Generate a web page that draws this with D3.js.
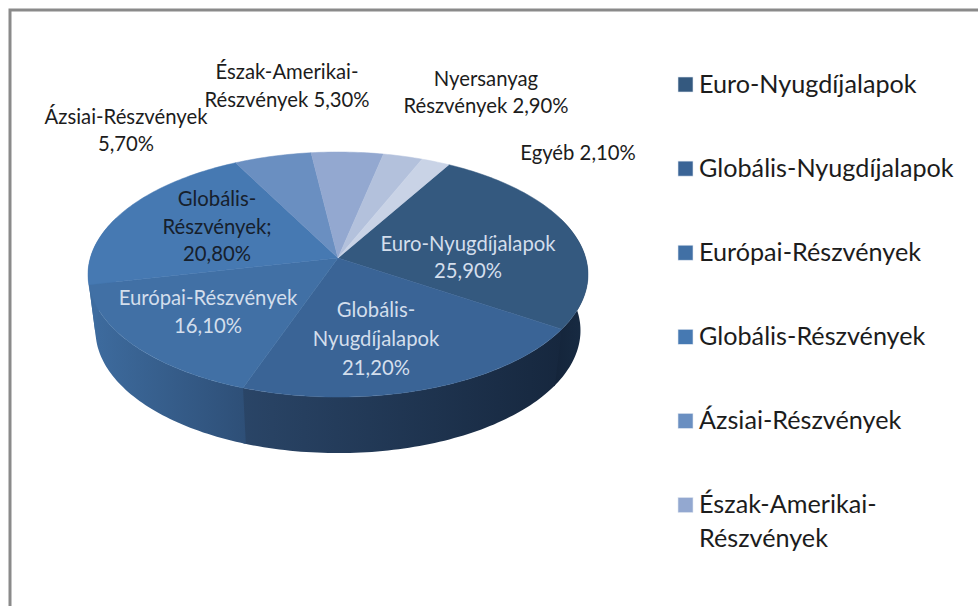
<!DOCTYPE html>
<html>
<head>
<meta charset="utf-8">
<script src="https://cdn.jsdelivr.net/npm/d3@7"></script>
<style>
html,body{margin:0;padding:0;background:#fff;}
svg{display:block;}
text{font-family:Lato,"Open Sans",sans-serif;}
</style>
</head>
<body>
<svg width="978" height="606"></svg>
<script>
/* ----------------------------------------------------------
data
---------------------------------------------------------- */
var categories = ["Euro-Nyugdíjalapok","Globális-Nyugdíjalapok","Európai-Részvények","Globális-Részvények","Ázsiai-Részvények","Észak-Amerikai-Részvények","Nyersanyag Részvények","Egyéb"];
var values = [25.9,21.2,16.1,20.8,5.7,5.3,2.9,2.1];
var valueLabels = ["25,90%","21,20%","16,10%","20,80%","5,70%","5,30%","2,90%","2,10%"];
var labelLines = [
	["Euro-Nyugdíjalapok","25,90%"],
	["Globális-","Nyugdíjalapok","21,20%"],
	["Európai-Részvények","16,10%"],
	["Globális-","Részvények;","20,80%"],
	["Ázsiai-Részvények","5,70%"],
	["Észak-Amerikai-","Részvények 5,30%"],
	["Nyersanyag","Részvények 2,90%"],
	["Egyéb 2,10%"]
];
var legendItems = [
	["Euro-Nyugdíjalapok"],
	["Globális-Nyugdíjalapok"],
	["Európai-Részvények"],
	["Globális-Részvények"],
	["Ázsiai-Részvények"],
	["Észak-Amerikai-","Részvények"]
];

/* ----------------------------------------------------------
setting
---------------------------------------------------------- */
var faceColor = ["#34597f","#3a6496","#4170a5","#4679b2","#6a8fc1","#93a8d0","#b3c1dc","#c9d3e6"];
var wallStops = [["#14243a","#182c44"],["#2a4567","#16273e"],["#3e6c9f","#2e4f77"],["#3e6c9f","#3e6c9f"]];
var labelPos = [[468,251,27],[376,317,29],[208,305,28],[217,206,27.5],[126,124,27],[287,79,28],[486,86,27],[578,160,0]];
var labelColor = ["#d3deec","#d3deec","#d3deec","#16202c","#1c1c1c","#1c1c1c","#1c1c1c","#1c1c1c"];

var svg = d3.select("svg");
var defs = svg.append("defs");

// perspective of the disc
var k = -0.135;
var xScale = d3.scaleLinear().domain([-1,1]).range([338-247.7,338+247.7]);
var yScale = d3.scaleLinear().domain([-1,1]).range([258-120.3,258+120.3]);
var depth = 56;
var shrink = 0.97;

function topPoint(a){
	var u = Math.sin(a), v = -Math.cos(a), w = 1 + k*v;
	return [xScale(u/w), yScale(v/w)];
}
function bottomPoint(a){
	var p = topPoint(a);
	return [xScale(0) + (p[0]-xScale(0))*shrink, p[1] + depth];
}
function sample(a0,a1){
	var n = Math.max(2,Math.ceil(Math.abs(a1-a0)/0.02));
	return d3.range(n+1).map(function(i){return a0+(a1-a0)*i/n;});
}

var rad = Math.PI/180;
var pie = d3.pie().sort(null).startAngle(30*rad).endAngle(390*rad);
var slices = pie(values);
var line = d3.line();

/* ----------------------------------------------------------
frame
---------------------------------------------------------- */
svg.append("path")
	.attr("d","M10,606V10H978")
	.attr("fill","none").attr("stroke","#8a8a8a").attr("stroke-width",3);

/* ----------------------------------------------------------
pie walls and faces
---------------------------------------------------------- */
var frontFrom = 70*rad, frontTo = 290*rad;
var wallGroup = svg.append("g");
slices.slice(0,4).forEach(function(s,i){
	var a0 = Math.max(s.startAngle,frontFrom), a1 = Math.min(s.endAngle,frontTo)+0.01;
	var pts = sample(a0,a1);
	var top = pts.map(topPoint);
	var bottom = pts.map(bottomPoint).reverse();
	var ext = d3.extent(top.concat(bottom),function(p){return p[0];});
	var grad = defs.append("linearGradient").attr("id","wall"+i)
		.attr("gradientUnits","userSpaceOnUse")
		.attr("x1",i==0 ? ext[0] : ext[1]).attr("x2",i==0 ? ext[1] : ext[0]).attr("y1",0).attr("y2",0);
	grad.append("stop").attr("offset",0).attr("stop-color",wallStops[i][i==0 ? 0 : 1]);
	grad.append("stop").attr("offset",1).attr("stop-color",wallStops[i][i==0 ? 1 : 0]);
	wallGroup.append("path")
		.attr("d",line(top.concat(bottom))+"Z")
		.attr("fill","url(#wall"+i+")");
});

svg.append("g").selectAll("path")
	.data(slices)
	.enter().append("path")
	.attr("d",function(s){
		return line([[xScale(0),yScale(0)]].concat(sample(s.startAngle,s.endAngle).map(topPoint)))+"Z";
	})
	.attr("fill",function(s,i){return faceColor[i];})
	.attr("stroke",function(s,i){return faceColor[i];})
	.attr("stroke-width",0.5);

/* ----------------------------------------------------------
labels
---------------------------------------------------------- */
var gLabel = svg.append("g").attr("font-size",20.3).attr("text-anchor","middle");
labelLines.forEach(function(lines,i){
	lines.forEach(function(t,j){
		gLabel.append("text")
			.attr("x",labelPos[i][0])
			.attr("y",labelPos[i][1]+labelPos[i][2]*j)
			.attr("fill",labelColor[i])
			.text(t);
	});
});

/* ----------------------------------------------------------
legend
---------------------------------------------------------- */
var legendY = d3.scaleLinear().domain([0,5]).range([84.5,505]);
var legs = svg.append("g").selectAll("g")
	.data(legendItems)
	.enter().append("g")
	.attr("transform",function(d,i){return "translate(678,"+legendY(i)+")";});
legs.append("rect")
	.attr("x",0).attr("y",-7.5).attr("width",15).attr("height",15)
	.attr("fill",function(d,i){return faceColor[i];})
	.attr("stroke","#dfe6f0").attr("stroke-width",0.6);
legs.each(function(d){
	var g = d3.select(this);
	d.forEach(function(t,j){
		g.append("text")
			.attr("x",21).attr("y",8+34*j)
			.attr("font-size",25.2).attr("fill","#1c1c1c")
			.text(t);
	});
});
</script>
</body>
</html>
